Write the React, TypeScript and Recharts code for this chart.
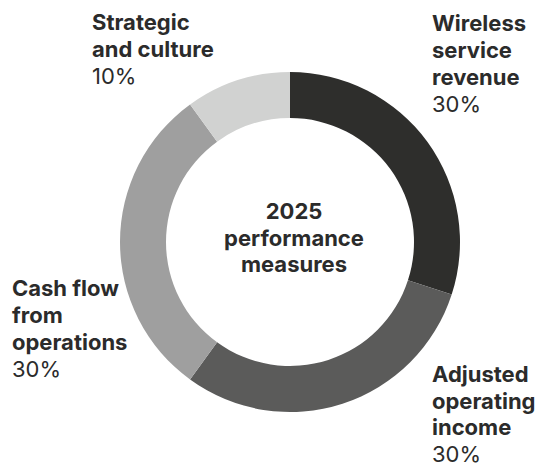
import React from "react"
import { PieChart, Pie, Cell, Label } from "recharts"

const categories = ["Wireless service revenue", "Adjusted operating income", "Cash flow from operations", "Strategic and culture"]
const weights = [30, 30, 30, 10]
const labelLines = [
  ["Wireless", "service", "revenue"],
  ["Adjusted", "operating", "income"],
  ["Cash flow", "from", "operations"],
  ["Strategic", "and culture"],
]
const centerLines = ["2025", "performance", "measures"]

const colors = ["#2e2e2c", "#5b5b5a", "#9f9f9f", "#d1d2d1"]
// left edge and first baseline of each label block
const labelPos = [
  { x: 432, y: 31 },
  { x: 432, y: 382 },
  { x: 12, y: 296 },
  { x: 92, y: 30 },
]
const LINE_H = 27
const FONT = "Inter, 'Liberation Sans', Arial, sans-serif"
const TEXT = "#2b2b2b"

const data = categories.map((name, i) => ({ name, value: weights[i], lines: labelLines[i] }))

const renderLabel = (props: any) => {
  const i = props.index
  const p = labelPos[i]
  const lines: string[] = data[i].lines
  const lh = i === 1 ? 26.5 : LINE_H
  return (
    <text key={"lbl" + i} x={p.x} y={p.y} fill={TEXT} fontFamily={FONT} fontSize={22}>
      {lines.map((l, j) => (
        <tspan key={j} x={p.x} y={p.y + j * lh} fontWeight={700}>
          {l}
        </tspan>
      ))}
      <tspan x={p.x} y={p.y + lines.length * lh} fontWeight={400}>
        {data[i].value}%
      </tspan>
    </text>
  )
}

const CenterLabel = (props: any) => {
  const vb = props.viewBox || {}
  const cx = vb.cx ?? 290
  const cy = vb.cy ?? 242
  return (
    <text x={cx} y={cy} textAnchor="middle" fill={TEXT} fontFamily={FONT} fontWeight={700} fontSize={22}>
      <tspan x={cx + 4} y={cy - 23}>{centerLines[0]}</tspan>
      <tspan x={cx + 4} y={cy + 4}>{centerLines[1]}</tspan>
      <tspan x={cx + 4} y={cy + 30}>{centerLines[2]}</tspan>
    </text>
  )
}

export default function App() {
  return (
    <div style={{ position: "absolute", left: 0, top: 0, width: 542, height: 468, background: "#fff" }}>
      <PieChart width={542} height={468} margin={{ top: 0, right: 0, bottom: 0, left: 0 }}>
        <Pie
          data={data}
          dataKey="value"
          nameKey="name"
          cx={290}
          cy={242}
          innerRadius={124}
          outerRadius={170}
          startAngle={90}
          endAngle={-270}
          stroke="none"
          label={renderLabel}
          labelLine={false}
          isAnimationActive={false}
        >
          {data.map((d, i) => (
            <Cell key={d.name} fill={colors[i]} />
          ))}
          <Label position="center" content={<CenterLabel />} />
        </Pie>
      </PieChart>
    </div>
  )
}
